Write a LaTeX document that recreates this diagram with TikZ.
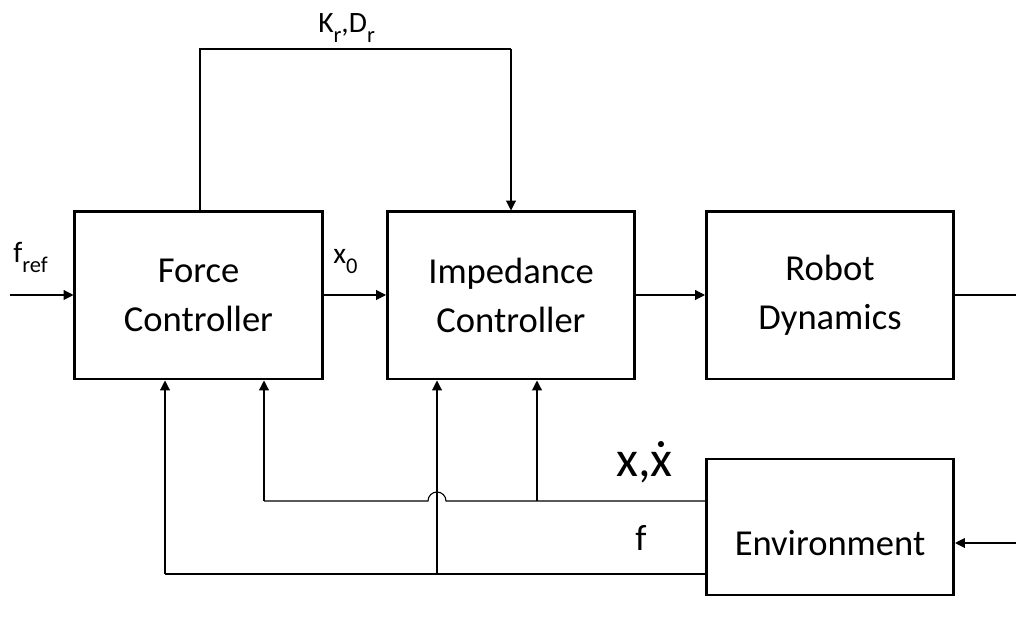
\documentclass[tikz,border=0pt]{standalone}
\usepackage{fontspec}
\setmainfont{Carlito}
\usetikzlibrary{arrows.meta,calc}

\newcommand{\lowsub}[1]{\raisebox{-7pt}{\fontsize{16}{16}\selectfont #1}}

\tikzset{
  block/.style={draw, line width=2.1pt, minimum width=6.175cm, minimum height=4.175cm,
    align=center, font=\fontsize{26}{35}\selectfont},
  link/.style={line width=0.8pt},
  sig/.style={link, -{Triangle[length=7pt,width=7pt]}},
  lbl/.style={anchor=base west, inner sep=0pt, font=\fontsize{21}{24}\selectfont},
}

\begin{document}
\begin{tikzpicture}[x=0.025cm, y=0.025cm]
			%%%%% START %%%%%
			\useasboundingbox (0,0) rectangle (1016,624);
			
			% blocks
			\node[block] (force) at (198.5, 328.5) {Force\\Controller};
			\node[block] (imped) at (511, 328.5) {Impedance\\Controller};
			\node[block] (robot) at (830, 328.5) {Robot\\Dynamics};
			\node[block, minimum height=3.4cm] (env) at (830, 97) {};
			\node[font=\fontsize{26}{35}\selectfont] (envtxt) at (830, 81) {Environment};
			
			% free ends and corners
			\coordinate (fin) at (10, 329);
			\coordinate (qout) at (1016, 329);
			\coordinate (envin) at (1016, 81);
			\coordinate (kdl) at (200, 575);
			\coordinate (kdr) at (511, 575);
			\coordinate (xa) at (264, 123);
			\coordinate (xb) at (537, 123);
			\coordinate (hop) at (437, 123);
			\coordinate (fa) at (165, 50);
			\coordinate (fb) at (437, 50);
			
			% labels
			\node[lbl] (fref) at (13, 361) {f\lowsub{ref}};
			\node[lbl] (xnull) at (333, 360) {x\lowsub{0}};
			\node[lbl] (kd) at (318, 591) {K\lowsub{r},D\lowsub{r}};
			\node[lbl, font=\fontsize{36}{40}\selectfont] (xdx) at (616, 147) {x,ẋ};
			\node[lbl, anchor=base, font=\fontsize{26}{30}\selectfont] (flbl) at (641, 74) {f};
			
			% forward path
			\draw[sig] (fin) -- (force.west |- fin);
			\draw[sig] (force.east |- fin) -- (imped.west |- fin);
			\draw[sig] (imped.east |- fin) -- (robot.west |- fin);
			\draw[link] (robot.east |- qout) -- (qout);
			\draw[sig] (envin) -- (env.east |- envin);
			
			% gains
			\draw[link] (force.north -| kdl) -- (kdl) -- (kdr);
			\draw[sig] (kdr) -- (imped.north -| kdr);
			
			% position feedback
			\draw[link] (env.west |- xb) -- (xb) -- ($(hop)+(9,0)$) arc (0:180:9) -- (xa);
			\draw[sig] (xa) -- (force.south -| xa);
			\draw[sig] (xb) -- (imped.south -| xb);
			
			% force feedback
			\draw[link] (env.west |- fb) -- (fb) -- (fa);
			\draw[sig] (fa) -- (force.south -| fa);
			\draw[sig] (fb) -- (imped.south -| fb);
			%%%%% END %%%%%
\end{tikzpicture}
\end{document}
